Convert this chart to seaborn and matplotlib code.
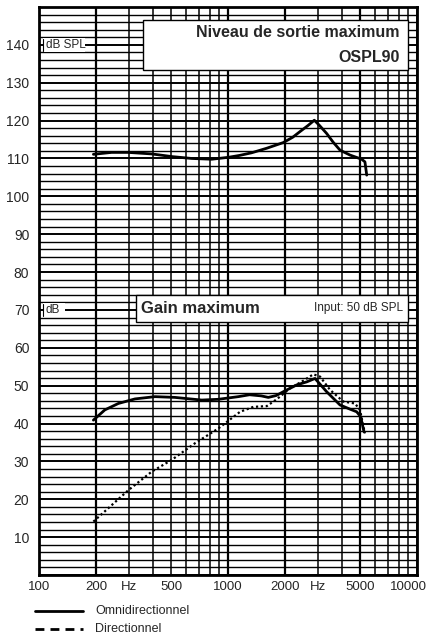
import numpy as np
import pandas as pd
import matplotlib
matplotlib.use("Agg")
import matplotlib.pyplot as plt
from matplotlib.lines import Line2D
from matplotlib.patches import Rectangle
from matplotlib.transforms import ScaledTranslation
import seaborn as sns

# ---- data ----
ospl_freq = [194, 242, 297, 395, 504, 643, 820, 1004, 1150, 1334, 1603, 1962, 2200, 2404, 2650, 2862, 3050, 3327, 3600, 3915, 4421, 5097, 5303, 5420]
ospl_db   = [111.1, 111.6, 111.6, 111.2, 110.5, 110.0, 109.8, 110.3, 110.8, 111.5, 112.7, 114.2, 115.6, 117.1, 118.7, 120.1, 118.7, 116.6, 114.3, 112.2, 110.9, 109.8, 109.1, 105.6]

omni_freq = [194, 223, 263, 322, 411, 524, 726, 889, 1134, 1300, 1500, 1634, 1800, 1962, 2310, 2609, 2886, 3327, 3915, 4421, 4797, 5036, 5244]
omni_db   = [40.9, 43.6, 45.3, 46.5, 47.1, 46.9, 46.2, 46.4, 47.1, 47.6, 47.3, 46.9, 47.4, 48.4, 50.2, 51.0, 51.9, 48.4, 44.9, 43.8, 43.1, 41.8, 37.8]

dir_freq = [194, 297, 395, 504, 669, 889, 1046, 1158, 1361, 1603, 1810, 2128, 2502, 2827, 3068, 3465, 4074, 4699, 4992, 5303]
dir_db   = [14.1, 22.4, 27.3, 30.4, 34.8, 38.7, 41.4, 43.1, 44.4, 44.6, 46.4, 49.3, 51.3, 53.0, 52.4, 48.9, 45.8, 45.3, 43.6, 37.4]

y_ticks = [10, 20, 30, 40, 50, 60, 70, 80, 90, 100, 110, 120, 130, 140]
x_ticks = [100, 200, 300, 500, 1000, 2000, 3000, 5000, 10000]
x_labels = ["100", "200", "Hz", "500", "1000", "2000", "Hz", "5000", "10000"]

title_top = ["Niveau de sortie maximum", "OSPL90"]
title_gain = "Gain maximum"
input_txt = "Input: 50 dB SPL"
legend_labels = ["Omnidirectionnel", "Directionnel"]

sns.set_style("white")
plt.rcParams['font.family'] = ['Liberation Sans', 'DejaVu Sans']

fig = plt.figure(figsize=(4.28, 6.36), dpi=100)
ax = fig.add_axes([39/428, 1-575/636, 378/428, 568/636])
ax.set_xscale('log')
ax.set_xlim(100, 10000)
ax.set_ylim(0, 150)

# grid
vx = list(range(100, 1000, 100)) + list(range(1000, 10001, 1000))
for v in vx:
    lw = 1.6 if v in (200, 1000, 2000, 5000) else 1.1
    ax.axvline(v, color='black', lw=lw, zorder=1)
for h in range(0, 151, 2):
    lw = 1.4 if h % 10 == 0 else 1.0
    ax.axhline(h, color='black', lw=lw, zorder=1)
for s in ax.spines.values():
    s.set_linewidth(2)
    s.set_color('black')

sns.lineplot(x=ospl_freq, y=ospl_db, ax=ax, color='black', lw=2.0, sort=False, zorder=5)
sns.lineplot(x=omni_freq, y=omni_db, ax=ax, color='black', lw=2.0, sort=False, zorder=5)
sns.lineplot(x=dir_freq, y=dir_db, ax=ax, color='black', lw=1.6, sort=False, zorder=5)
ax.lines[-1].set_linestyle((0, (1, 1.2)))

ax.set_yticks(y_ticks)
ax.set_yticklabels([str(t) for t in y_ticks], fontsize=10)
ax.set_xticks(x_ticks)
ax.set_xticklabels(x_labels, fontsize=9.5)
ax.xaxis.set_minor_locator(matplotlib.ticker.NullLocator())
ax.tick_params(axis='y', length=0, pad=7)
ax.tick_params(axis='x', length=0, pad=4)
ax.set_xlabel("")
ax.set_ylabel("")
last = ax.get_xticklabels()[-1]
last.set_ha('right')
last.set_transform(last.get_transform() + ScaledTranslation(10/100, 0, fig.dpi_scale_trans))

# OSPL box
ax.add_patch(Rectangle((0.275, (575-70)/568), 0.977-0.275, 50/568, transform=ax.transAxes,
                       facecolor='white', edgecolor='black', lw=1.0, zorder=6))
ax.text(0.955, (575-37)/568, title_top[0], transform=ax.transAxes, ha='right', va='baseline',
        fontsize=11.5, fontweight='bold', zorder=7)
ax.text(0.955, (575-62)/568, title_top[1], transform=ax.transAxes, ha='right', va='baseline',
        fontsize=11.5, fontweight='bold', zorder=7)

# Gain box
ax.add_patch(Rectangle((0.257, (575-322)/568), 0.977-0.257, 27/568, transform=ax.transAxes,
                       facecolor='white', edgecolor='black', lw=1.0, zorder=6))
ax.text(0.27, (575-308.5)/568, title_gain, transform=ax.transAxes, ha='left', va='center',
        fontsize=12, fontweight='bold', zorder=7)
ax.text(0.962, (575-308.5)/568, input_txt, transform=ax.transAxes, ha='right', va='center',
        fontsize=8.5, zorder=7)

# unit labels
for yy, lab, w in [(140, "dB SPL", 42), (70, "dB", 22)]:
    yfrac = yy/150
    ax.add_patch(Rectangle((4/378, yfrac-7/568), w/378, 14/568, transform=ax.transAxes,
                           facecolor='white', edgecolor='none', zorder=6))
    ax.plot([4/378, 4/378], [yfrac-6/568, yfrac+6/568], transform=ax.transAxes, color='black', lw=0.8, zorder=7)
    ax.text(7/378, yfrac, lab, transform=ax.transAxes, ha='left', va='center', fontsize=8.5, zorder=7)

# legend
fig.add_artist(Line2D([35/428, 83/428], [1-611/636]*2, color='black', lw=2))
fig.add_artist(Line2D([35/428, 83/428], [1-629/636]*2, color='black', lw=2, linestyle=(0, (3.2, 2.2))))
fig.text(95/428, 1-611/636, legend_labels[0], ha='left', va='center', fontsize=9)
fig.text(95/428, 1-629/636, legend_labels[1], ha='left', va='center', fontsize=9)

fig.savefig("out.png", dpi=100, facecolor='white')
